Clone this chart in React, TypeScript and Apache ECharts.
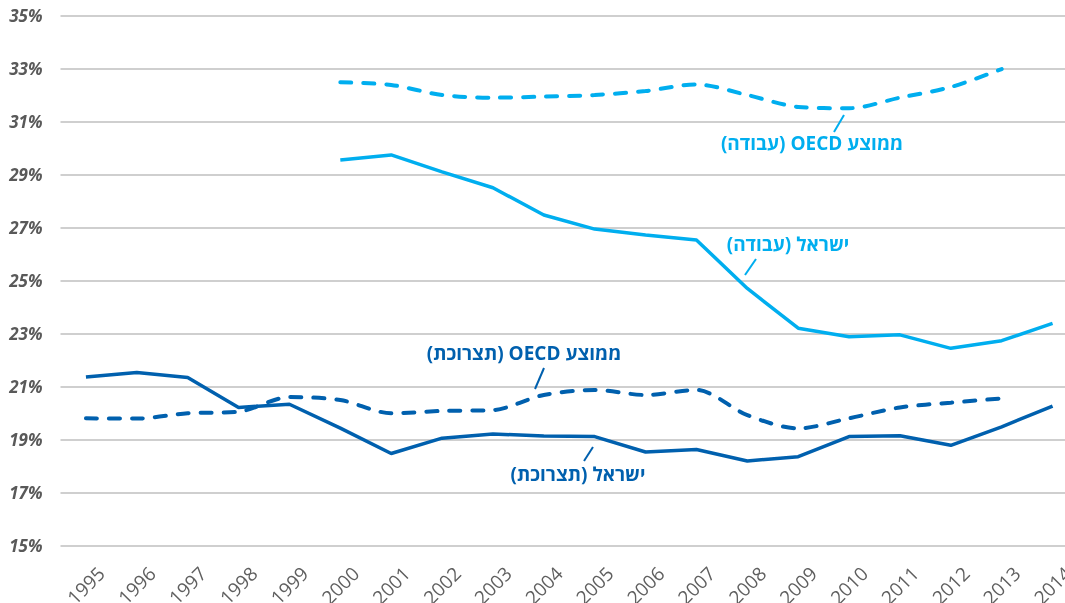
import React, { useEffect, useRef } from "react";
import * as echarts from "echarts";

const years = ["1995","1996","1997","1998","1999","2000","2001","2002","2003","2004","2005","2006","2007","2008","2009","2010","2011","2012","2013","2014"];

const israelWork = [null, null, null, null, null, 29.55, 29.74, 29.1, 28.5, 27.47, 26.94, 26.72, 26.53, 24.7, 23.2, 22.88, 22.95, 22.44, 22.73, 23.38];
const oecdWork = [null, null, null, null, null, 32.48, 32.38, 32.0, 31.9, 31.94, 32.0, 32.15, 32.4, 32.0, 31.55, 31.5, 31.9, 32.3, 32.98, null];
const israelCons = [21.36, 21.53, 21.34, 20.21, 20.33, 19.43, 18.47, 19.05, 19.21, 19.13, 19.11, 18.53, 18.62, 18.19, 18.35, 19.11, 19.14, 18.78, 19.48, 20.26];
const oecdCons = [19.8, 19.79, 19.99, 20.05, 20.6, 20.49, 19.99, 20.08, 20.11, 20.68, 20.87, 20.68, 20.87, 19.92, 19.42, 19.8, 20.21, 20.39, 20.55, null];

const labelOecdWork = "\u202Bממוצע OECD (עבודה)\u202C";
const labelIsraelWork = "\u202Bישראל (עבודה)\u202C";
const labelOecdCons = "\u202Bממוצע OECD (תצרוכת)\u202C";
const labelIsraelCons = "\u202Bישראל (תצרוכת)\u202C";

const LIGHT = "#00AEEF";
const DARK = "#0060AE";
const FONT = "'Open Sans', 'DejaVu Sans', sans-serif";

export default function App() {
  const ref = useRef<HTMLDivElement>(null);
  useEffect(() => {
    if (!ref.current) return;
    const chart = echarts.init(ref.current, null, { renderer: "svg" });
    const annText = (x: number, y: number, text: string, color: string) => ({
      type: "text",
      x,
      y,
      style: {
        text,
        fill: color,
        font: `bold 19px ${FONT}`,
        align: "center",
        verticalAlign: "middle",
      },
      z: 100,
    });
    const annLine = (x1: number, y1: number, x2: number, y2: number, color: string) => ({
      type: "line",
      shape: { x1, y1, x2, y2 },
      style: { stroke: color, lineWidth: 2 },
      z: 100,
    });
    chart.setOption({
      animation: false,
      grid: {
        left: 60.5,
        right: -13,
        top: 15.5,
        bottom: 57.5,
        containLabel: false,
        outerBoundsMode: "none",
      },
      xAxis: {
        type: "category",
        data: years,
        boundaryGap: true,
        axisLine: { show: false },
        axisTick: { show: false },
        axisLabel: {
          rotate: 45,
          align: "center",
          verticalAlign: "middle",
          margin: 40,
          color: "#5f5f5f",
          fontSize: 19,
          fontFamily: FONT,
          interval: 0,
        },
      },
      yAxis: {
        type: "value",
        min: 15,
        max: 35,
        interval: 2,
        axisLine: { show: false },
        axisTick: { show: false },
        splitLine: { lineStyle: { color: "#BFBFBF", width: 1.5 } },
        axisLabel: {
          formatter: (v: number) => `${v}%`,
          color: "#595959",
          fontSize: 17,
          fontStyle: "italic",
          fontWeight: "bold",
          fontFamily: FONT,
          margin: 18,
        },
      },
      series: [
        {
          name: "ישראל (עבודה)",
          type: "line",
          data: israelWork,
          showSymbol: false,
          symbol: "none",
          lineStyle: { color: LIGHT, width: 3.5 },
          itemStyle: { color: LIGHT },
        },
        {
          name: "ממוצע OECD (עבודה)",
          type: "line",
          data: oecdWork,
          smooth: 0.3,
          showSymbol: false,
          symbol: "none",
          lineStyle: { color: LIGHT, width: 4, type: [11, 12], cap: "round" },
          itemStyle: { color: LIGHT },
        },
        {
          name: "ישראל (תצרוכת)",
          type: "line",
          data: israelCons,
          showSymbol: false,
          symbol: "none",
          lineStyle: { color: DARK, width: 3.5 },
          itemStyle: { color: DARK },
        },
        {
          name: "ממוצע OECD (תצרוכת)",
          type: "line",
          data: oecdCons,
          smooth: 0.3,
          showSymbol: false,
          symbol: "none",
          lineStyle: { color: DARK, width: 4, type: [11, 12], cap: "round" },
          itemStyle: { color: DARK },
        },
      ],
      graphic: [
        annText(812, 143, labelOecdWork, LIGHT),
        annLine(844, 115, 834, 132, LIGHT),
        annText(788, 244, labelIsraelWork, LIGHT),
        annLine(756, 259, 745, 275, LIGHT),
        annText(524, 353, labelOecdCons, DARK),
        annLine(544, 368, 535, 389, DARK),
        annText(578, 474, labelIsraelCons, DARK),
        annLine(593, 447, 584, 461, DARK),
      ],
    });
    return () => chart.dispose();
  }, []);
  return (
    <div
      ref={ref}
      style={{ position: "fixed", left: 0, top: 0, width: 1065, height: 603 }}
    />
  );
}
